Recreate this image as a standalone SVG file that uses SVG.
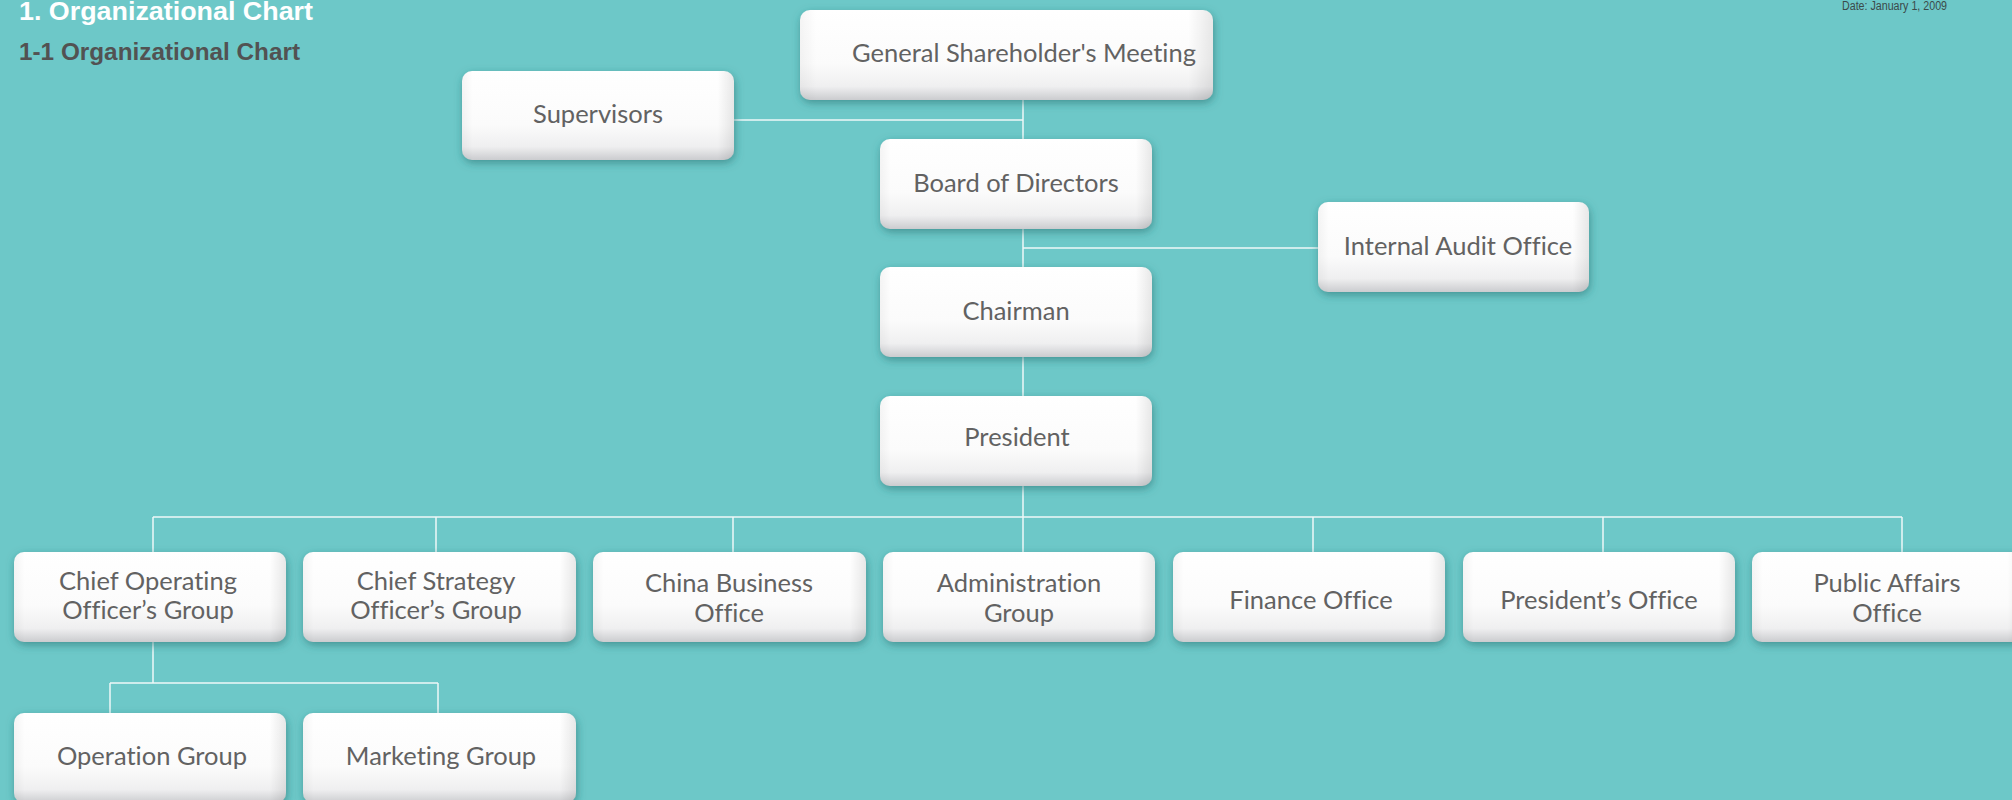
<svg xmlns="http://www.w3.org/2000/svg" width="2012" height="800" viewBox="0 0 2012 800">
<defs>
<linearGradient id="boxg" x1="0" y1="0" x2="0" y2="1">
<stop offset="0" stop-color="#ffffff"/>
<stop offset="0.6" stop-color="#fbfbfb"/>
<stop offset="0.85" stop-color="#efeff0"/>
<stop offset="1" stop-color="#cbcccf"/>
</linearGradient>
<linearGradient id="sideg" x1="0" y1="0" x2="1" y2="0">
<stop offset="0" stop-color="#000" stop-opacity="0.04"/>
<stop offset="0.04" stop-color="#000" stop-opacity="0"/>
<stop offset="0.94" stop-color="#000" stop-opacity="0"/>
<stop offset="1" stop-color="#000" stop-opacity="0.09"/>
</linearGradient>
<filter id="sh" x="-10%" y="-20%" width="120%" height="150%">
<feDropShadow dx="1" dy="3" stdDeviation="4" flood-color="#286f6f" flood-opacity="0.6"/>
</filter>
</defs>
<style>
.bg{fill:#6dc8c8}
.box{fill:url(#boxg);filter:url(#sh)}
.side{fill:url(#sideg)}
.lbl{font-family:Lato,"Open Sans",sans-serif;font-size:25.5px;fill:#626262;text-anchor:middle;font-variant-ligatures:none}
.conn{stroke:#eef8f8;stroke-width:1.5;fill:none}
.title{font-family:"Liberation Sans",Arial,sans-serif;font-weight:bold;font-size:25px;fill:#ffffff}
.sub{font-family:"Liberation Sans",Arial,sans-serif;font-weight:bold;font-size:23px;fill:#525252}
.date{font-family:"Liberation Sans",Arial,sans-serif;font-size:12px;fill:#3b4a4a}
</style>
<rect class="bg" x="0" y="0" width="2012" height="800"/>
<text class="title" x="19" y="20" textLength="294" lengthAdjust="spacingAndGlyphs">1. Organizational Chart</text>
<text class="sub" x="19" y="60" textLength="281" lengthAdjust="spacingAndGlyphs">1-1 Organizational Chart</text>
<text class="date" x="1842" y="10" textLength="105" lengthAdjust="spacingAndGlyphs">Date: January 1, 2009</text>
<g id="connectors">
<path class="conn" d="M1023 100V139M734 120H1023M1023 229V267M1023 248H1318M1023 357V396M1023 486V517M153 517H1902M153 517V552M436 517V552M733 517V552M1023 517V552M1313 517V552M1603 517V552M1902 517V552M153 642V683M110 683H438M110 683V713M438 683V713"/>
</g>
<g id="gsm"><rect class="box" x="800" y="10" width="413" height="90" rx="10"/><rect class="side" x="800" y="10" width="413" height="90" rx="10"/><text class="lbl" x="1024" y="62">General Shareholder's Meeting</text></g>
<g id="supervisors"><rect class="box" x="462" y="71" width="272" height="89" rx="10"/><rect class="side" x="462" y="71" width="272" height="89" rx="10"/><text class="lbl" x="598" y="123">Supervisors</text></g>
<g id="board"><rect class="box" x="880" y="139" width="272" height="90" rx="10"/><rect class="side" x="880" y="139" width="272" height="90" rx="10"/><text class="lbl" x="1016" y="192">Board of Directors</text></g>
<g id="audit"><rect class="box" x="1318" y="202" width="271" height="90" rx="10"/><rect class="side" x="1318" y="202" width="271" height="90" rx="10"/><text class="lbl" x="1458" y="255">Internal Audit Office</text></g>
<g id="chairman"><rect class="box" x="880" y="267" width="272" height="90" rx="10"/><rect class="side" x="880" y="267" width="272" height="90" rx="10"/><text class="lbl" x="1016" y="320">Chairman</text></g>
<g id="president"><rect class="box" x="880" y="396" width="272" height="90" rx="10"/><rect class="side" x="880" y="396" width="272" height="90" rx="10"/><text class="lbl" x="1017" y="446">President</text></g>
<g id="coo"><rect class="box" x="14" y="552" width="272" height="90" rx="10"/><rect class="side" x="14" y="552" width="272" height="90" rx="10"/><text class="lbl" x="148" y="590">Chief Operating</text><text class="lbl" x="148" y="619">Officer’s Group</text></g>
<g id="cso"><rect class="box" x="303" y="552" width="273" height="90" rx="10"/><rect class="side" x="303" y="552" width="273" height="90" rx="10"/><text class="lbl" x="436" y="590">Chief Strategy</text><text class="lbl" x="436" y="619">Officer’s Group</text></g>
<g id="china"><rect class="box" x="593" y="552" width="273" height="90" rx="10"/><rect class="side" x="593" y="552" width="273" height="90" rx="10"/><text class="lbl" x="729" y="592">China Business</text><text class="lbl" x="729" y="622">Office</text></g>
<g id="admin"><rect class="box" x="883" y="552" width="272" height="90" rx="10"/><rect class="side" x="883" y="552" width="272" height="90" rx="10"/><text class="lbl" x="1019" y="592">Administration</text><text class="lbl" x="1019" y="622">Group</text></g>
<g id="finance"><rect class="box" x="1173" y="552" width="272" height="90" rx="10"/><rect class="side" x="1173" y="552" width="272" height="90" rx="10"/><text class="lbl" x="1311" y="609">Finance Office</text></g>
<g id="presoffice"><rect class="box" x="1463" y="552" width="272" height="90" rx="10"/><rect class="side" x="1463" y="552" width="272" height="90" rx="10"/><text class="lbl" x="1599" y="609">President’s Office</text></g>
<g id="public"><rect class="box" x="1752" y="552" width="272" height="90" rx="10"/><rect class="side" x="1752" y="552" width="272" height="90" rx="10"/><text class="lbl" x="1887" y="592">Public Affairs</text><text class="lbl" x="1887" y="622">Office</text></g>
<g id="operation"><rect class="box" x="14" y="713" width="272" height="90" rx="10"/><rect class="side" x="14" y="713" width="272" height="90" rx="10"/><text class="lbl" x="152" y="765">Operation Group</text></g>
<g id="marketing"><rect class="box" x="303" y="713" width="273" height="90" rx="10"/><rect class="side" x="303" y="713" width="273" height="90" rx="10"/><text class="lbl" x="441" y="765">Marketing Group</text></g>
</svg>
